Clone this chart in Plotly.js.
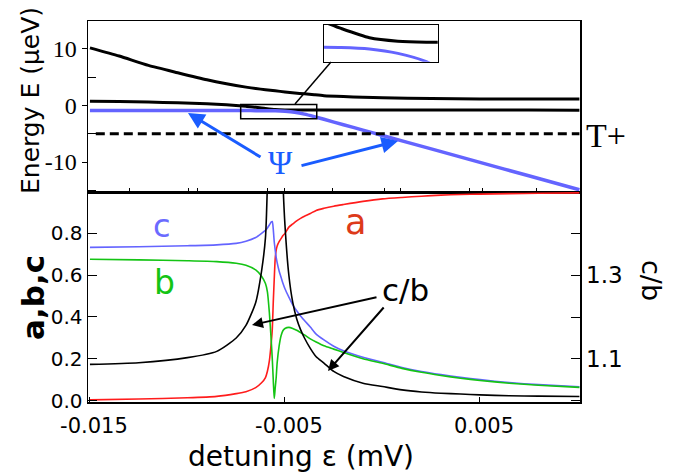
<!DOCTYPE html>
<html>
<head>
<meta charset="utf-8">
<script src="https://cdn.plot.ly/plotly-3.0.1.min.js"></script>
<style>html,body{margin:0;padding:0;background:#fff;}#chart{width:691px;height:476px;}</style>
</head>
<body>
<div id="chart"></div>
<script>
// ---------- Top panel: energy levels (µeV) vs detuning (mV) ----------
const epsTop = [-0.015, -0.0135, -0.012, -0.0105, -0.009, -0.008, -0.007, -0.0065, -0.006, -0.0055, -0.005, -0.0045, -0.004, -0.0035, -0.003, -0.002, -0.001, 0, 0.0025, 0.005, 0.0075, 0.0101];
const energyUpper = [10.2, 8.75, 7.1, 5.8, 4.55, 3.85, 3.25, 3.0, 2.8, 2.6, 2.4, 2.22, 2.07, 1.9, 1.74, 1.58, 1.46, 1.38, 1.23, 1.17, 1.15, 1.14];
const energyMiddle = [0.76, 0.7, 0.6, 0.48, 0.3, 0.12, -0.15, -0.3, -0.52, -0.71, -0.78, -0.8, -0.8, -0.8, -0.8, -0.8, -0.8, -0.8, -0.8, -0.81, -0.81, -0.82];
const energyPsi = [-0.9, -0.9, -0.9, -0.9, -0.9, -0.9, -0.9, -0.905, -0.91, -0.94, -1.03, -1.2, -1.52, -1.96, -2.44, -3.4, -4.35, -5.3, -7.68, -10.05, -12.43, -14.9];
const tPlusX = [-0.0147, 0.0101];
const tPlusLevel = -5;
const topTickVals = [-0.01295, -0.00997, -0.00946, -0.00592, -0.005, -0.00254, 0.00013, 0.00095, 0.00444, 0.00515, 0.00792];
const topYTickVals = [-10, 0, 10];
const topYTickText = ['-10', '0', '10'];
const topYMinorVals = [-15, -5, 5];
const zoomRectX = [-0.00727, -0.00337];
const zoomRectY = [-2.35, 0.18];
const insetRangeX = [-0.0063, -0.0043];
const insetRangeY = [-1.2, -0.45];

// ---------- Bottom panel: coefficients a, b, c and ratio c/b ----------
const epsBottom = [-0.015, -0.0125, -0.01, -0.0085, -0.0075, -0.007, -0.0065, -0.0062, -0.006, -0.0059, -0.0058, -0.0057, -0.00565, -0.0056, -0.00555, -0.0055, -0.00545, -0.0054, -0.0053, -0.0052, -0.0051, -0.005, -0.0048, -0.0046, -0.0044, -0.0042, -0.004, -0.0037, -0.0034, -0.003, -0.0025, -0.002, -0.001, 0, 0.001, 0.002, 0.003, 0.004, 0.005, 0.0065, 0.008, 0.0101];
const coefA = [0.003, 0.007, 0.013, 0.02, 0.033, 0.042, 0.062, 0.085, 0.11, 0.14, 0.19, 0.28, 0.34, 0.47, 0.58, 0.68, 0.72, 0.74, 0.76, 0.775, 0.79, 0.80, 0.83, 0.845, 0.86, 0.872, 0.882, 0.895, 0.91, 0.92, 0.93, 0.938, 0.953, 0.965, 0.972, 0.978, 0.983, 0.986, 0.988, 0.99, 0.992, 0.994];
const coefB = [0.676, 0.673, 0.669, 0.665, 0.657, 0.647, 0.625, 0.595, 0.56, 0.52, 0.42, 0.28, 0.2, 0.1, 0.01, 0.06, 0.11, 0.18, 0.26, 0.31, 0.335, 0.345, 0.35, 0.345, 0.336, 0.325, 0.314, 0.295, 0.28, 0.262, 0.246, 0.23, 0.2, 0.178, 0.154, 0.135, 0.12, 0.107, 0.096, 0.083, 0.073, 0.063];
const coefC = [0.733, 0.736, 0.741, 0.745, 0.752, 0.762, 0.78, 0.80, 0.815, 0.826, 0.84, 0.855, 0.857, 0.82, 0.76, 0.72, 0.685, 0.66, 0.62, 0.59, 0.56, 0.535, 0.495, 0.458, 0.43, 0.405, 0.383, 0.352, 0.318, 0.29, 0.26, 0.238, 0.207, 0.183, 0.158, 0.139, 0.124, 0.111, 0.1, 0.086, 0.076, 0.066];
const ratioCB = [1.087, 1.091, 1.103, 1.118, 1.15, 1.18, 1.235, 1.31, 1.39, 1.52, 1.8, 2.3, 2.7, 3.2, 3.5, 3.2, 2.8, 2.4, 2.0, 1.7, 1.52, 1.42, 1.3, 1.235, 1.196, 1.17, 1.15, 1.125, 1.105, 1.09, 1.07, 1.058, 1.042, 1.034, 1.026, 1.021, 1.018, 1.016, 1.014, 1.012, 1.011, 1.01];
const xTickVals = [-0.015, -0.005, 0.005];
const xTickText = ['-0.015', '-0.005', '0.005'];
const leftTickVals = [0, 0.2, 0.4, 0.6, 0.8];
const leftTickText = ['0.0', '0.2', '0.4', '0.6', '0.8'];
const rightTickVals = [1.0, 1.1, 1.2, 1.3, 1.4];
const rightTickText = ['', '1.1', '', '1.3', ''];

// ---------- geometry helpers (pixel -> paper) ----------
const L = 88, R = 580, T = 21, B = 402;
const W = R - L, H = B - T;
const px = x => (x - L) / W;
const py = y => (B - y) / H;
const split = py(192);

const BLUE = '#6464ff', GREEN = '#14c414', RED = '#ff1c1c', PSI = '#1a5cff';
const sm = {shape: 'spline', smoothing: 0.6};

const traces = [
  {x: epsTop, y: energyUpper, xaxis: 'x', yaxis: 'y', mode: 'lines', line: Object.assign({color: '#000', width: 3}, sm)},
  {x: epsTop, y: energyMiddle, xaxis: 'x', yaxis: 'y', mode: 'lines', line: Object.assign({color: '#000', width: 3}, sm)},
  {x: epsTop, y: energyPsi, xaxis: 'x', yaxis: 'y', mode: 'lines', line: Object.assign({color: BLUE, width: 3.5}, sm)},
  {x: tPlusX, y: tPlusX.map(() => tPlusLevel), xaxis: 'x', yaxis: 'y', mode: 'lines', line: {color: '#000', width: 3, dash: '9px,5px'}},
  // inset (magnified anticrossing)
  {x: epsTop, y: energyMiddle, xaxis: 'x3', yaxis: 'y4', mode: 'lines', line: Object.assign({color: '#000', width: 3}, sm)},
  {x: epsTop, y: energyPsi, xaxis: 'x3', yaxis: 'y4', mode: 'lines', line: Object.assign({color: BLUE, width: 3}, sm)},
  // bottom panel
  {x: epsBottom, y: coefA, xaxis: 'x2', yaxis: 'y2', mode: 'lines', line: Object.assign({color: RED, width: 1.6}, sm)},
  {x: epsBottom, y: coefC, xaxis: 'x2', yaxis: 'y2', mode: 'lines', line: Object.assign({color: BLUE, width: 1.6}, sm)},
  {x: epsBottom, y: coefB, xaxis: 'x2', yaxis: 'y2', mode: 'lines', line: Object.assign({color: GREEN, width: 1.6}, sm)},
  {x: epsBottom, y: ratioCB, xaxis: 'x2', yaxis: 'y3', mode: 'lines', line: Object.assign({color: '#000', width: 1.6}, sm)}
];

const xRange = [-0.0151, 0.01013];
const axBase = {showgrid: false, zeroline: false, showline: true, linecolor: '#000', linewidth: 1.5, tickcolor: '#000', mirror: true};

function arrow(tx, ty, hx, hy, color, width) {
  return {x: px(hx), y: py(hy), xref: 'paper', yref: 'paper', ax: tx - hx, ay: ty - hy, text: '', showarrow: true,
          arrowhead: 2, arrowsize: 1.1, arrowwidth: width, arrowcolor: color, standoff: 0, startstandoff: 0};
}
function label(x, y, text, font, extra) {
  return Object.assign({x: px(x), y: py(y), xref: 'paper', yref: 'paper', text: text, showarrow: false,
          xanchor: 'center', yanchor: 'middle', font: font}, extra || {});
}

const sans = 'DejaVu Sans, Open Sans, sans-serif';
const serif = 'Liberation Serif, Times New Roman, serif';

const layout = {
  width: 691, height: 476,
  margin: {l: L, r: 691 - R, t: T, b: 476 - B},
  paper_bgcolor: '#fff', plot_bgcolor: '#fff',
  showlegend: false, hovermode: false,
  xaxis: Object.assign({}, axBase, {domain: [0, 1], anchor: 'y', range: xRange, tickmode: 'array', tickvals: topTickVals,
          ticks: 'inside', ticklen: 4, showticklabels: false}),
  yaxis: Object.assign({}, axBase, {domain: [split, 1], anchor: 'x', range: [-15.3, 14.95], tickmode: 'array',
          tickvals: topYTickVals, ticktext: topYTickText, ticks: 'outside', ticklen: 5,
          minor: {tickmode: 'array', tickvals: topYMinorVals, ticks: 'inside', ticklen: 8, tickcolor: '#000', showgrid: false},
          tickfont: {family: serif, size: 24, color: '#000'}}),
  xaxis2: Object.assign({}, axBase, {domain: [0, 1], anchor: 'y2', range: xRange, tickmode: 'array', tickvals: xTickVals,
          ticktext: xTickText, ticks: 'inside', ticklen: 5, ticklabelstandoff: 4, ticklabelshift: 4,
          tickfont: {family: sans, size: 21, color: '#000'}}),
  yaxis2: Object.assign({}, axBase, {domain: [0, split], anchor: 'x2', range: [-0.007, 0.998], tickmode: 'array',
          tickvals: leftTickVals, ticktext: leftTickText, ticks: 'inside', ticklen: 9,
          tickfont: {family: sans, size: 20, color: '#000'}}),
  yaxis3: Object.assign({}, axBase, {overlaying: 'y2', side: 'right', anchor: 'x2', range: [0.997, 1.499], tickmode: 'array',
          tickvals: rightTickVals, ticktext: rightTickText, ticks: 'inside', ticklen: 9, mirror: false,
          tickfont: {family: sans, size: 23, color: '#000'}}),
  xaxis3: Object.assign({}, axBase, {domain: [px(324), px(437.7)], anchor: 'y4', range: insetRangeX, ticks: '', showticklabels: false}),
  yaxis4: Object.assign({}, axBase, {domain: [py(61.7), py(25)], anchor: 'x3', range: insetRangeY, ticks: '', showticklabels: false}),
  shapes: [
    {type: 'rect', xref: 'x', yref: 'y', x0: zoomRectX[0], x1: zoomRectX[1], y0: zoomRectY[0], y1: zoomRectY[1],
     line: {color: '#000', width: 1.5}, fillcolor: 'rgba(0,0,0,0)'},
    {type: 'line', xref: 'paper', yref: 'paper', x0: px(295), y0: py(104), x1: px(331), y1: py(62),
     line: {color: '#000', width: 1.5}}
  ],
  annotations: [
    label(30, 101, 'Energy E (μeV)', {family: sans, size: 25, color: '#000'}, {textangle: -90}),
    label(33, 298, '<b>a,b,c</b>', {family: sans, size: 31, color: '#000'}, {textangle: -90}),
    label(301, 456, 'detuning ε (mV)', {family: sans, size: 28, color: '#000'}),
    label(652, 280, 'c/b', {family: sans, size: 27, color: '#000'}, {textangle: 90}),
    label(606, 135, 'T+', {family: serif, size: 34, color: '#000'}),
    label(280, 163, 'Ψ', {family: serif, size: 33, color: PSI}),
    label(162, 226, 'c', {family: sans, size: 32, color: '#6b6bff'}),
    label(164, 282, 'b', {family: sans, size: 33, color: GREEN}),
    label(355, 222, 'a', {family: sans, size: 35, color: '#dd3a1a'}),
    label(405, 290, 'c/b', {family: sans, size: 31, color: '#000'}),
    arrow(262, 158, 188, 113, PSI, 3),
    arrow(300, 166, 398, 141, PSI, 3),
    arrow(378, 297, 252, 325, '#000', 2),
    arrow(385, 306, 328, 371, '#000', 2)
  ]
};

Plotly.newPlot('chart', traces, layout, {displayModeBar: false, staticPlot: true});
</script>
</body>
</html>
